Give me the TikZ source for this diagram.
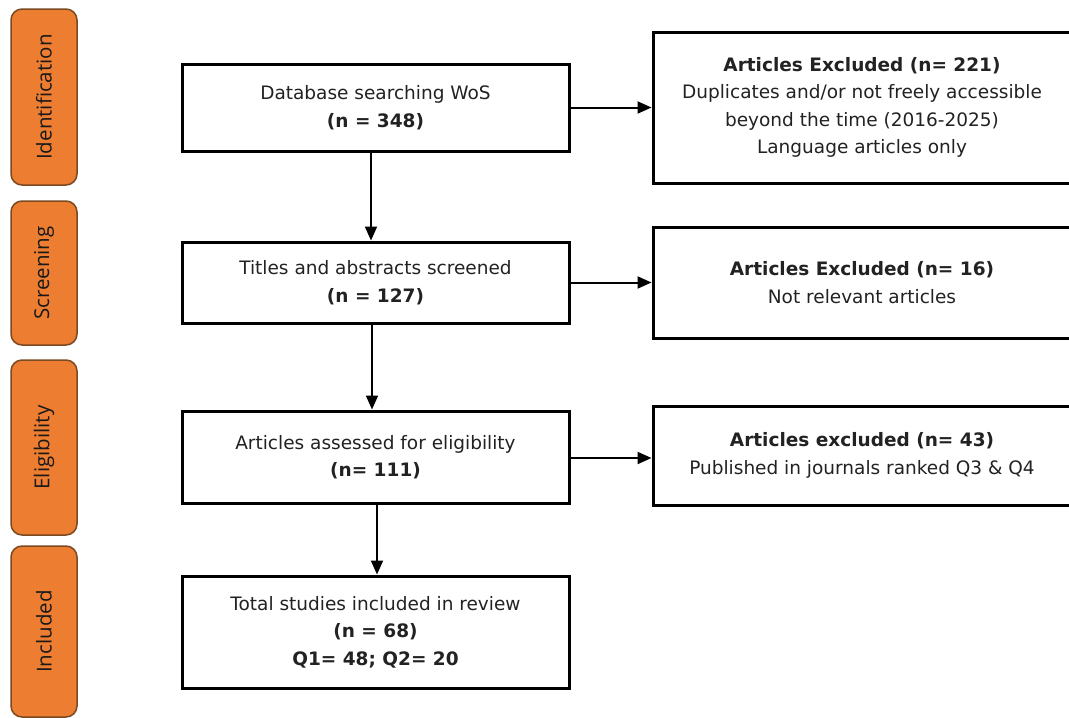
\documentclass[tikz,border=0pt]{standalone}
\usepackage{fontspec}
\setmainfont{DejaVu Sans}
\newfontfamily\ofont{Open Sans}
\usetikzlibrary{arrows.meta}
\definecolor{orng}{HTML}{ED7D31}
\definecolor{orngborder}{HTML}{7A4A22}
\definecolor{txt}{HTML}{222222}
\tikzset{
  mainbox/.style={draw=black, line width=3pt, fill=white, align=center, inner sep=0pt,
    font=\fontsize{18.5}{27.5}\selectfont, text=txt},
  phase/.style={draw=orngborder, line width=1.5pt, fill=orng, rounded corners=11pt,
    inner sep=0pt, minimum width=66pt},
  phaselabel/.style={rotate=90, font=\ofont\fontsize{20.5}{22}\selectfont, text=black!90},
  arr/.style={line width=2pt, -{Triangle[length=14pt,width=12pt]}}
}
\begin{document}
\begin{tikzpicture}[x=1pt,y=-1pt]
\path[use as bounding box] (0,0) rectangle (1069,718);
% phase boxes
\node[phase, minimum height=176pt] (o1) at (44,97) {};
\node[phaselabel] (t1) at (o1.center) {Identification};
\node[phase, minimum height=144pt] (o2) at (44,273) {};
\node[phaselabel] (t2) at (o2.center) {Screening};
\node[phase, minimum height=175pt] (o3) at (44,447.5) {};
\node[phaselabel] (t3) at (o3.center) {Eligibility};
\node[phase, minimum height=171pt] (o4) at (44,631.5) {};
\node[phaselabel] (t4) at (o4.center) {Included};
% left boxes
\node[mainbox, minimum width=387pt, minimum height=87pt] (b1) at (375.5,107.5)
  {Database searching WoS\\\textbf{(n = 348)}};
\node[mainbox, minimum width=387pt, minimum height=81pt] (b2) at (375.5,282.5)
  {Titles and abstracts screened\\\textbf{(n = 127)}};
\node[mainbox, minimum width=387pt, minimum height=92pt] (b3) at (375.5,457)
  {Articles assessed for eligibility\\\textbf{(n= 111)}};
\node[mainbox, minimum width=387pt, minimum height=112pt] (b4) at (375.5,632)
  {Total studies included in review\\\textbf{(n = 68)}\\\textbf{Q1= 48; Q2= 20}};
% right boxes
\node[mainbox, minimum width=418pt, minimum height=151pt] (r1) at (862,107.5)
  {\textbf{Articles Excluded (n= 221)}\\Duplicates and/or not freely accessible\\beyond the time (2016-2025)\\Language articles only};
\node[mainbox, minimum width=418pt, minimum height=111pt] (r2) at (862,282.5)
  {\textbf{Articles Excluded (n= 16)}\\Not relevant articles};
\node[mainbox, minimum width=418pt, minimum height=99pt] (r3) at (862,455.5)
  {\textbf{Articles excluded (n= 43)}\\Published in journals ranked Q3 \& Q4};
% connectors
\draw[arr] ([xshift=-4.5pt]b1.south) -- ([xshift=-4.5pt]b2.north);
\draw[arr] ([xshift=-3.5pt]b2.south) -- ([xshift=-3.5pt]b3.north);
\draw[arr] ([xshift=1.5pt]b3.south) -- ([xshift=1.5pt]b4.north);
\draw[arr] (b1.east) -- (r1.west);
\draw[arr] (b2.east) -- (r2.west);
\draw[arr] ([yshift=-1pt]b3.east) -- ([yshift=-1pt]b3.east -| r3.west);
\end{tikzpicture}
\end{document}
